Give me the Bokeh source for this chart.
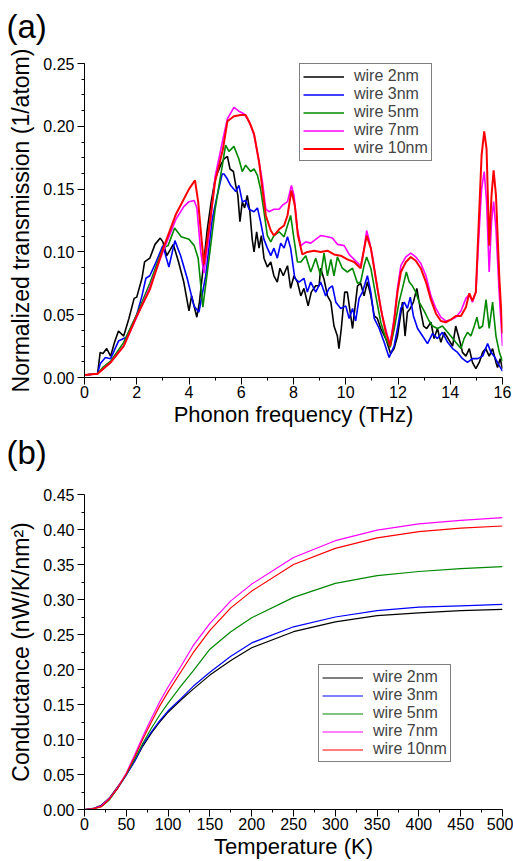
from bokeh.plotting import figure
from bokeh.layouts import column
from bokeh.models import Range1d, FixedTicker, PrintfTickFormatter, Legend, LegendItem, Title
from bokeh.embed import file_html
from bokeh.resources import INLINE

FONT = "Liberation Sans"

# ---------------- (a) transmission vs frequency: (THz, 1/atom) ----------------
wire_2nm = [(0, 0.002), (0.5, 0.003), (0.6, 0.020), (0.7, 0.019), (0.85, 0.023), (1.0, 0.017),
            (1.15, 0.028), (1.3, 0.037), (1.5, 0.033), (1.7, 0.047), (1.9, 0.063), (2.0, 0.064),
            (2.2, 0.079), (2.3, 0.092), (2.5, 0.095), (2.7, 0.106), (2.9, 0.111), (3.0, 0.108),
            (3.15, 0.097), (3.4, 0.106), (3.6, 0.092), (3.8, 0.076), (4.0, 0.053), (4.1, 0.065),
            (4.3, 0.048), (4.4, 0.060), (4.55, 0.089), (4.7, 0.118), (4.85, 0.140), (5.0, 0.158),
            (5.21, 0.169), (5.34, 0.174), (5.47, 0.176), (5.57, 0.166), (5.70, 0.164), (5.79, 0.153),
            (5.87, 0.145), (5.95, 0.124), (6.04, 0.140), (6.13, 0.135), (6.23, 0.145), (6.33, 0.132),
            (6.42, 0.110), (6.49, 0.100), (6.59, 0.116), (6.68, 0.103), (6.77, 0.113), (6.87, 0.095),
            (7.00, 0.088), (7.13, 0.092), (7.25, 0.081), (7.38, 0.076), (7.48, 0.087), (7.61, 0.081),
            (7.77, 0.089), (7.89, 0.071), (8.02, 0.081), (8.15, 0.076), (8.28, 0.065), (8.40, 0.071),
            (8.56, 0.057), (8.68, 0.068), (8.85, 0.073), (8.98, 0.073), (9.04, 0.087), (9.17, 0.078),
            (9.30, 0.065), (9.43, 0.060), (9.55, 0.041), (9.68, 0.033), (9.74, 0.023), (9.83, 0.039),
            (9.96, 0.068), (10.06, 0.068), (10.19, 0.049), (10.26, 0.039), (10.36, 0.057), (10.45, 0.073),
            (10.57, 0.075), (10.70, 0.065), (10.83, 0.076), (10.96, 0.065), (11.09, 0.049), (11.21, 0.047),
            (11.34, 0.039), (11.53, 0.031), (11.72, 0.019), (11.85, 0.023), (11.98, 0.033), (12.08, 0.047),
            (12.17, 0.060), (12.27, 0.033), (12.36, 0.052), (12.47, 0.055), (12.59, 0.060), (12.72, 0.071),
            (12.85, 0.055), (12.98, 0.041), (13.10, 0.039), (13.26, 0.044), (13.38, 0.031), (13.51, 0.039),
            (13.64, 0.028), (13.77, 0.036), (13.92, 0.031), (14.09, 0.025), (14.21, 0.041), (14.34, 0.031),
            (14.47, 0.020), (14.60, 0.017), (14.73, 0.023), (14.85, 0.012), (14.98, 0.007), (15.11, 0.012),
            (15.24, 0.020), (15.36, 0.023), (15.49, 0.017), (15.62, 0.023), (15.75, 0.012), (15.81, 0.008),
            (15.91, 0.015), (16.0, 0.007)]

wire_3nm = [(0, 0.002), (0.5, 0.003), (0.6, 0.011), (0.8, 0.016), (1.0, 0.015), (1.3, 0.029),
            (1.6, 0.032), (2.0, 0.050), (2.2, 0.065), (2.35, 0.079), (2.5, 0.081), (2.7, 0.090),
            (2.9, 0.100), (3.0, 0.105), (3.23, 0.088), (3.46, 0.109), (3.68, 0.097), (3.93, 0.079),
            (4.19, 0.057), (4.38, 0.052), (4.64, 0.081), (4.89, 0.126), (5.08, 0.145), (5.27, 0.162),
            (5.34, 0.162), (5.47, 0.158), (5.59, 0.153), (5.79, 0.148), (5.91, 0.153), (6.04, 0.140),
            (6.17, 0.141), (6.30, 0.134), (6.49, 0.132), (6.62, 0.135), (6.74, 0.124), (6.87, 0.110),
            (7.00, 0.103), (7.13, 0.097), (7.25, 0.103), (7.38, 0.095), (7.51, 0.107), (7.64, 0.103),
            (7.77, 0.112), (7.89, 0.103), (8.05, 0.079), (8.21, 0.076), (8.40, 0.079), (8.53, 0.068),
            (8.66, 0.076), (8.85, 0.068), (9.04, 0.076), (9.23, 0.065), (9.36, 0.071), (9.49, 0.073),
            (9.62, 0.060), (9.81, 0.055), (10.00, 0.057), (10.13, 0.047), (10.26, 0.055), (10.38, 0.045),
            (10.51, 0.063), (10.64, 0.068), (10.83, 0.081), (10.96, 0.068), (11.09, 0.047), (11.28, 0.039),
            (11.47, 0.028), (11.66, 0.016), (11.85, 0.025), (11.98, 0.039), (12.11, 0.055), (12.24, 0.060),
            (12.36, 0.055), (12.47, 0.064), (12.59, 0.049), (12.75, 0.039), (12.94, 0.033), (13.13, 0.027),
            (13.32, 0.035), (13.51, 0.031), (13.70, 0.036), (13.90, 0.028), (14.09, 0.023), (14.28, 0.020),
            (14.47, 0.015), (14.66, 0.012), (14.85, 0.015), (15.05, 0.015), (15.24, 0.017), (15.43, 0.027),
            (15.56, 0.020), (15.68, 0.017), (15.81, 0.012), (16.0, 0.005)]

wire_5nm = [(0, 0.002), (0.5, 0.003), (0.7, 0.008), (1.0, 0.013), (1.5, 0.028), (2.0, 0.050),
            (2.5, 0.075), (3.0, 0.103), (3.2, 0.105), (3.45, 0.119), (3.7, 0.112), (4.0, 0.110),
            (4.2, 0.105), (4.35, 0.095), (4.53, 0.056), (4.8, 0.100), (5.0, 0.134), (5.3, 0.172),
            (5.40, 0.185), (5.53, 0.180), (5.72, 0.184), (5.91, 0.174), (6.04, 0.164), (6.17, 0.169),
            (6.36, 0.164), (6.49, 0.166), (6.62, 0.161), (6.74, 0.150), (6.87, 0.132), (7.00, 0.113),
            (7.13, 0.108), (7.25, 0.113), (7.45, 0.116), (7.64, 0.112), (7.77, 0.121), (7.89, 0.129),
            (8.02, 0.110), (8.15, 0.092), (8.28, 0.092), (8.47, 0.097), (8.66, 0.084), (8.85, 0.095),
            (9.04, 0.081), (9.17, 0.099), (9.30, 0.081), (9.43, 0.094), (9.55, 0.081), (9.68, 0.096),
            (9.87, 0.087), (10.06, 0.084), (10.26, 0.087), (10.45, 0.075), (10.57, 0.076), (10.70, 0.089),
            (10.80, 0.096), (10.96, 0.087), (11.15, 0.065), (11.34, 0.044), (11.53, 0.031), (11.70, 0.024),
            (11.85, 0.038), (12.04, 0.060), (12.17, 0.071), (12.32, 0.084), (12.43, 0.076), (12.55, 0.073),
            (12.68, 0.068), (12.81, 0.060), (13.00, 0.053), (13.19, 0.045), (13.32, 0.041), (13.51, 0.039),
            (13.70, 0.041), (13.90, 0.036), (14.02, 0.033), (14.21, 0.028), (14.41, 0.023), (14.53, 0.031),
            (14.66, 0.036), (14.79, 0.033), (14.92, 0.041), (15.02, 0.048), (15.11, 0.039), (15.24, 0.041),
            (15.37, 0.062), (15.49, 0.039), (15.62, 0.060), (15.75, 0.033), (15.88, 0.020), (16.0, 0.013)]

wire_7nm = [(0, 0.002), (0.5, 0.003), (1.0, 0.012), (1.5, 0.025), (2.0, 0.048), (2.5, 0.072),
            (3.0, 0.100), (3.5, 0.126), (3.8, 0.136), (4.0, 0.140), (4.2, 0.141), (4.3, 0.135),
            (4.45, 0.100), (4.57, 0.083), (4.75, 0.110), (5.0, 0.160), (5.3, 0.190), (5.47, 0.206),
            (5.72, 0.215), (5.91, 0.212), (6.10, 0.210), (6.30, 0.204), (6.49, 0.193), (6.68, 0.172),
            (6.81, 0.156), (6.94, 0.134), (7.06, 0.132), (7.25, 0.134), (7.45, 0.134), (7.57, 0.137),
            (7.77, 0.140), (7.92, 0.153), (8.02, 0.145), (8.15, 0.118), (8.28, 0.105), (8.47, 0.108),
            (8.66, 0.107), (8.85, 0.110), (9.04, 0.113), (9.30, 0.112), (9.49, 0.111), (9.68, 0.106),
            (9.94, 0.105), (10.13, 0.098), (10.32, 0.094), (10.57, 0.089), (10.70, 0.102), (10.80, 0.117),
            (10.89, 0.110), (11.02, 0.097), (11.21, 0.071), (11.40, 0.049), (11.60, 0.033), (11.70, 0.027),
            (11.85, 0.047), (11.98, 0.071), (12.11, 0.089), (12.30, 0.096), (12.49, 0.099), (12.68, 0.096),
            (12.87, 0.091), (13.07, 0.081), (13.26, 0.065), (13.45, 0.055), (13.64, 0.048), (13.83, 0.045),
            (14.02, 0.046), (14.21, 0.048), (14.41, 0.053), (14.60, 0.063), (14.73, 0.066), (14.85, 0.060),
            (14.98, 0.068), (15.11, 0.118), (15.20, 0.150), (15.30, 0.164), (15.39, 0.140), (15.49, 0.084),
            (15.58, 0.124), (15.66, 0.140), (15.75, 0.118), (15.88, 0.065), (16.0, 0.025)]

wire_10nm = [(0, 0.002), (0.5, 0.003), (1.0, 0.012), (1.5, 0.025), (2.0, 0.049), (2.5, 0.070),
             (3.0, 0.102), (3.5, 0.130), (4.0, 0.150), (4.23, 0.157), (4.35, 0.140), (4.57, 0.090),
             (4.8, 0.124), (5.0, 0.156), (5.3, 0.182), (5.47, 0.204), (5.72, 0.208), (5.98, 0.209),
             (6.17, 0.209), (6.36, 0.201), (6.49, 0.194), (6.68, 0.172), (6.81, 0.150), (6.94, 0.129),
             (7.13, 0.117), (7.25, 0.113), (7.45, 0.118), (7.64, 0.121), (7.77, 0.129), (7.92, 0.149),
             (8.05, 0.137), (8.17, 0.113), (8.34, 0.098), (8.53, 0.100), (8.79, 0.101), (9.04, 0.100),
             (9.30, 0.101), (9.55, 0.098), (9.81, 0.097), (10.06, 0.094), (10.32, 0.092), (10.57, 0.087),
             (10.70, 0.102), (10.80, 0.113), (10.96, 0.103), (11.15, 0.079), (11.34, 0.055), (11.53, 0.036),
             (11.70, 0.025), (11.85, 0.044), (11.98, 0.068), (12.11, 0.084), (12.30, 0.092), (12.49, 0.096),
             (12.68, 0.093), (12.87, 0.087), (13.07, 0.076), (13.26, 0.062), (13.45, 0.051), (13.64, 0.045),
             (13.83, 0.044), (14.02, 0.046), (14.21, 0.049), (14.41, 0.049), (14.60, 0.056), (14.73, 0.067),
             (14.85, 0.061), (14.98, 0.068), (15.08, 0.118), (15.20, 0.177), (15.30, 0.196), (15.39, 0.182),
             (15.49, 0.105), (15.58, 0.145), (15.66, 0.165), (15.75, 0.145), (15.88, 0.079), (16.0, 0.035)]

# ---------------- (b) conductance vs temperature ----------------
temperature = [0, 10, 20, 30, 40, 50, 60, 70, 80, 90, 100, 115, 130, 150, 175, 200, 250, 300, 350, 400, 450, 500]
g_2nm = [0, 0.0015, 0.006, 0.017, 0.033, 0.050, 0.069, 0.091, 0.109, 0.125, 0.139, 0.156, 0.172, 0.192,
         0.213, 0.231, 0.254, 0.268, 0.277, 0.281, 0.284, 0.286]
g_3nm = [0, 0.001, 0.005, 0.015, 0.031, 0.049, 0.069, 0.093, 0.111, 0.127, 0.141, 0.158, 0.176, 0.196,
         0.219, 0.238, 0.261, 0.275, 0.284, 0.289, 0.291, 0.293]
g_5nm = [0, 0.001, 0.004, 0.014, 0.031, 0.050, 0.072, 0.095, 0.116, 0.135, 0.152, 0.176, 0.198, 0.229,
         0.254, 0.274, 0.303, 0.323, 0.334, 0.340, 0.344, 0.347]
g_7nm = [0, 0.001, 0.005, 0.016, 0.032, 0.052, 0.078, 0.105, 0.130, 0.154, 0.175, 0.204, 0.234, 0.266,
         0.298, 0.322, 0.360, 0.384, 0.399, 0.408, 0.413, 0.417]
g_10nm = [0, 0.001, 0.004, 0.015, 0.031, 0.051, 0.075, 0.101, 0.125, 0.148, 0.168, 0.196, 0.224, 0.256,
          0.288, 0.312, 0.350, 0.373, 0.388, 0.397, 0.402, 0.405]

labels = ["wire 2nm", "wire 3nm", "wire 5nm", "wire 7nm", "wire 10nm"]
colors = ["#000000", "#0000ff", "#008800", "#ff00ff", "#ff0000"]

freq_ticks = [0, 2, 4, 6, 8, 10, 12, 14, 16]
freq_minor = [1, 3, 5, 7, 9, 11, 13, 15]
trans_ticks = [0.0, 0.05, 0.10, 0.15, 0.20, 0.25]
trans_minor = [k * 0.0125 for k in range(21)]
temp_ticks = list(range(0, 501, 50))
temp_minor = list(range(25, 500, 50))
cond_ticks = [k * 0.05 for k in range(10)]
cond_minor = [0.025 + k * 0.05 for k in range(9)]


def style(p, xt, xm, yt, ym, xlabel, ylabel):
    p.outline_line_color = None
    p.xgrid.visible = False
    p.ygrid.visible = False
    p.background_fill_color = "white"
    p.border_fill_color = "white"
    p.xaxis.ticker = FixedTicker(ticks=xt, minor_ticks=xm)
    p.yaxis.ticker = FixedTicker(ticks=yt, minor_ticks=ym)
    p.yaxis.formatter = PrintfTickFormatter(format="%.2f")
    p.xaxis.axis_label = xlabel
    p.yaxis.axis_label = ylabel
    for ax in (p.xaxis[0], p.yaxis[0]):
        ax.axis_line_color = "black"
        ax.axis_line_width = 1
        ax.major_tick_line_color = "black"
        ax.minor_tick_line_color = "black"
        ax.major_tick_out = 7
        ax.major_tick_in = 0
        ax.minor_tick_out = 3
        ax.minor_tick_in = 0
        ax.major_label_text_font = FONT
        ax.major_label_text_font_size = "16px"
        ax.major_label_text_color = "black"
        ax.axis_label_text_font = FONT
        ax.axis_label_text_font_style = "normal"
        ax.axis_label_text_color = "black"
    p.xaxis.major_label_standoff = 1
    p.xaxis.axis_label_standoff = 1
    p.xaxis.axis_label_text_font_size = "22px"
    p.yaxis.major_label_standoff = 3
    p.yaxis.axis_label_standoff = 6
    p.yaxis.axis_label_text_font_size = "23px"


def tag_title(text, standoff):
    return Title(text=text, text_font=FONT, text_font_size="33px", text_font_style="normal",
                 text_color="black", align="left", offset=-78, standoff=standoff)


def legend_for(p, renderers, loc):
    items = [LegendItem(label=l, renderers=[r]) for l, r in zip(labels, renderers)]
    lg = Legend(items=items, location=loc)
    lg.border_line_color = "black"
    lg.border_line_width = 1
    lg.background_fill_color = "white"
    lg.background_fill_alpha = 1
    lg.label_text_font = FONT
    lg.label_text_font_size = "16px"
    lg.glyph_width = 41
    lg.glyph_height = 17
    lg.label_height = 17
    lg.label_standoff = 10
    lg.spacing = 0
    lg.padding = 3
    lg.margin = 0
    p.add_layout(lg)


# ---- panel (a)
p1 = figure(width=513, height=472, x_range=Range1d(0, 16), y_range=Range1d(0, 0.25),
            output_backend="svg", toolbar_location=None,
            min_border_left=84, min_border_right=11, min_border_top=63, min_border_bottom=95)
style(p1, freq_ticks, freq_minor, trans_ticks, trans_minor,
      "Phonon frequency (THz)", "Normalized transmission (1/atom)")
rs1 = []
for data, c in zip([wire_2nm, wire_3nm, wire_5nm, wire_7nm, wire_10nm], colors):
    xs = [d[0] for d in data]
    ys = [d[1] for d in data]
    rs1.append(p1.line(xs, ys, line_color=c, line_width=2.0 if c == "#ff0000" else 1.6))
legend_for(p1, rs1, (215, 216))
# blank spacer nearest the frame, then the panel letter above it
p1.add_layout(Title(text=" ", text_font=FONT, text_font_size="10px", standoff=6), "above")
p1.add_layout(tag_title("(a)", 0), "above")
# panel letter of the lower chart sits under this chart's x axis label
p1.add_layout(tag_title("(b)", 4), "below")

# ---- panel (b)
p2 = figure(width=513, height=389, x_range=Range1d(0, 500), y_range=Range1d(0, 0.45),
            output_backend="svg", toolbar_location=None,
            min_border_left=84, min_border_right=11, min_border_top=22, min_border_bottom=52)
style(p2, temp_ticks, temp_minor, cond_ticks, cond_minor,
      "Temperature (K)", "Conductance (nW/K/nm\u00b2)")
rs2 = []
for g, c in zip([g_2nm, g_3nm, g_5nm, g_7nm, g_10nm], colors):
    rs2.append(p2.line(temperature, g, line_color=c, line_width=1.2))
legend_for(p2, rs2, (234, 47))

layout = column(p1, p2, spacing=0)
open("out.html", "w").write(file_html(layout, INLINE))
